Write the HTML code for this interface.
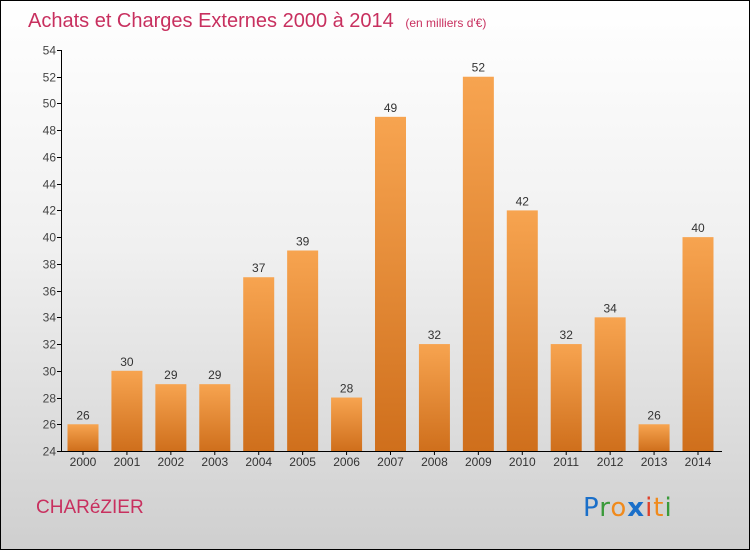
<!DOCTYPE html>
<html><head><meta charset="utf-8"><style>
html,body{margin:0;padding:0}
body{width:750px;height:550px;overflow:hidden;font-family:"Liberation Sans",sans-serif}
</style></head><body>
<svg width="750" height="550" xmlns="http://www.w3.org/2000/svg">
<defs>
<linearGradient id="bg" x1="0" y1="0" x2="0" y2="1"><stop offset="0" stop-color="#ffffff"/><stop offset="0.45" stop-color="#f0f0f0"/><stop offset="1" stop-color="#cfcfcf"/></linearGradient>
<linearGradient id="bar" x1="0" y1="0" x2="0" y2="1"><stop offset="0" stop-color="#f7a450"/><stop offset="1" stop-color="#cf6f1c"/></linearGradient>
</defs>
<rect x="0.5" y="0.5" width="749" height="549" fill="url(#bg)" stroke="#000"/>
<text x="28" y="27" font-size="20" fill="#c8305f">Achats et Charges Externes 2000 à 2014 <tspan font-size="12" dx="6">(en milliers d'€)</tspan></text>
<g id="axes"></g>
<g id="bars"></g>
<text x="36" y="513" font-size="19" fill="#c8305f">CHARéZIER</text>
<g font-size="26" font-family="'DejaVu Sans',sans-serif">
<text x="583" y="516" letter-spacing="1"><tspan fill="#1a6fc9">P</tspan><tspan fill="#3a9a3a">r</tspan><tspan fill="#f08a1c">o</tspan><tspan fill="#1a6fc9" font-weight="bold">x</tspan><tspan fill="#e0402a">i</tspan><tspan fill="#f08a1c">t</tspan><tspan fill="#3a9a3a">i</tspan></text>
</g>
</svg>
<script>
const years=["2000","2001","2002","2003","2004","2005","2006","2007","2008","2009","2010","2011","2012","2013","2014"];
const values=[26,30,29,29,37,39,28,49,32,52,42,32,34,26,40];
const yTicks=[24,26,28,30,32,34,36,38,40,42,44,46,48,50,52,54];
const NS="http://www.w3.org/2000/svg";
const y0=451,y1=50,vmin=24,vmax=54;
function yScale(v){return y0-(v-vmin)*(y0-y1)/(vmax-vmin);}
function xScale(i){return 83+i*(698-83)/(years.length-1);}
function mk(t,a,p){const e=document.createElementNS(NS,t);for(const k in a)e.setAttribute(k,a[k]);p.appendChild(e);return e;}
const ax=document.getElementById('axes'),bg=document.getElementById('bars');
const yl=mk('line',{x1:61.5,y1:y1,x2:61.5,y2:y0,stroke:'#000'},ax);


const xl=mk('line',{x1:61,y1:y0+0.5,x2:722,y2:y0+0.5,stroke:'#000'},ax);


yTicks.forEach(v=>{const y=Math.round(yScale(v))+0.5;
mk('line',{x1:57,y1:y,x2:61,y2:y,stroke:'#000'},ax);
const t=mk('text',{x:56,y:y+4,'font-size':12,fill:'#444','text-anchor':'end'},ax);t.textContent=v;

});
values.forEach((v,i)=>{const cx=xScale(i),y=yScale(v);
const r=mk('rect',{x:cx-15.5,y:y,width:31,height:y0-y,fill:'url(#bar)'},bg);


mk('line',{x1:cx,y1:y0,x2:cx,y2:y0+4,stroke:'#000'},ax);
const t=mk('text',{x:cx,y:y-5,'font-size':12,fill:'#333','text-anchor':'middle'},bg);t.textContent=v;


const xt=mk('text',{x:cx,y:466,'font-size':12,fill:'#333','text-anchor':'middle'},ax);xt.textContent=years[i];

});
</script>
</body></html>
